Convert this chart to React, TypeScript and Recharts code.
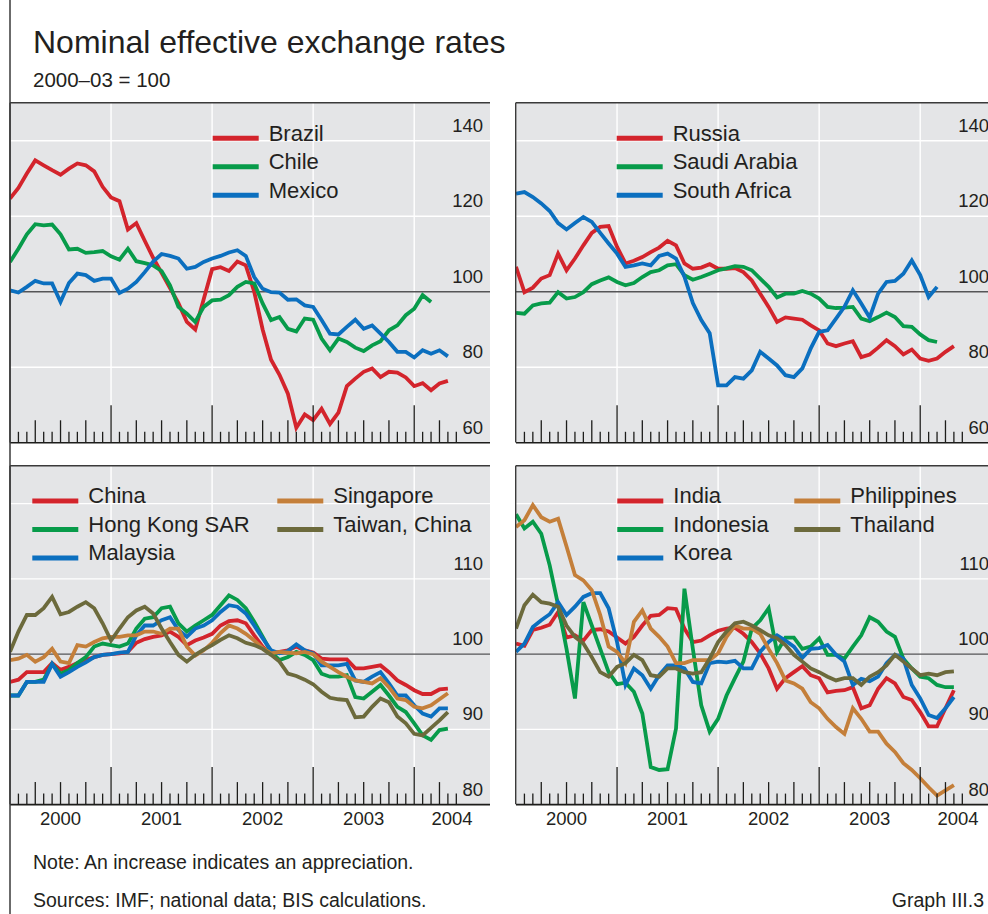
import React from "react";
import { LineChart, Line, XAxis, YAxis, ReferenceLine, CartesianGrid } from "recharts";

// monthly observations, index 0 = Jan 2000 ... 52 = May 2004
const months = [...Array(53).keys()];
const yearLabels = ["2000", "2001", "2002", "2003", "2004"];

// Latin America
const brazil = [124.7, 127.5, 131.3, 134.8, 133.5, 132.2, 131, 132.6, 134, 133.5, 131.9, 127.8, 125, 124, 116.5, 118.2, 113.5, 109, 105, 101, 97, 92, 90, 98, 106, 106.5, 105.5, 108, 107, 100, 90, 82, 78, 73, 64, 67.5, 66, 69, 65, 68, 75, 77, 78.8, 79.7, 77.4, 78.8, 78.6, 77.3, 75, 75.8, 73.9, 75.7, 76.4];
const chile = [107.9, 111.4, 115.2, 117.9, 117.6, 117.8, 115.2, 111.2, 111.4, 110.3, 110.5, 110.8, 109.4, 108.5, 111.4, 108.1, 107.6, 107, 105.5, 101.7, 96, 94.2, 92, 96, 97.7, 97.9, 99.1, 101.3, 102.6, 102.2, 96.9, 92.5, 93.3, 90.2, 89.5, 92.9, 92.6, 87.6, 84.5, 87.6, 86.7, 85.2, 84.3, 85.8, 86.9, 89.8, 91.1, 93.8, 95.5, 99.1, 97.3];
const mexico = [100.4, 99.8, 101.3, 102.9, 102.2, 102.2, 97.3, 102.3, 104.8, 104.4, 102.9, 103.5, 103.5, 99.7, 100.8, 102.6, 105.2, 108, 110, 109.5, 108.8, 106.1, 106.6, 107.9, 108.8, 109.5, 110.4, 111, 109.5, 103.9, 100.8, 99.9, 99.8, 97.9, 98, 96.4, 96, 92.5, 88.9, 88.7, 90.7, 92.6, 90.2, 91.1, 88.9, 86.7, 84.1, 84.1, 82.6, 84.5, 83.6, 84.5, 82.9];

// Russia, Saudi Arabia, South Africa
const russia = [106.6, 99.9, 101.1, 103.5, 104.4, 110.1, 105.7, 108.8, 112.3, 115.6, 117.2, 117.4, 111.9, 107.5, 108.2, 109.2, 110.5, 111.7, 113.5, 112.3, 107.5, 106.1, 106.4, 107.3, 106.1, 106.1, 106.3, 105.2, 103, 99.5, 96, 92, 93.2, 92.9, 92.6, 91.1, 89.8, 86.3, 85.6, 86.3, 86.9, 82.7, 83.4, 85.2, 87.2, 85.6, 83.4, 84.7, 82.3, 81.7, 82.3, 84.1, 85.6];
const saudi = [94.4, 94.2, 96.4, 96.9, 97.1, 99.9, 98.2, 98.6, 99.9, 102, 103, 103.8, 102.6, 101.7, 102.3, 103.9, 105.2, 105.7, 107, 107.3, 104.4, 103.2, 103.9, 104.8, 105.7, 106.2, 106.8, 106.6, 105.7, 103.5, 101.3, 98.5, 99.5, 99.5, 100.2, 99.5, 98.2, 96, 95.7, 95.8, 96, 92.9, 92.2, 93.3, 94.5, 93.3, 90.9, 90.7, 88.7, 87.2, 86.7];
const southAfrica = [126, 126.4, 125.1, 123.4, 121.4, 118.2, 116.5, 118.2, 119.8, 118.5, 115.6, 112.8, 110.1, 106.6, 107, 107.5, 107, 109.5, 110.1, 108.8, 104, 97, 92.5, 89, 75.2, 75.2, 77.4, 77, 79.2, 84.1, 82.3, 80.5, 77.9, 77.4, 79.7, 85, 89.4, 89.8, 92.9, 96, 100.4, 96.9, 93.2, 99.5, 102.6, 102.9, 104.8, 108.3, 104.4, 98.6, 101.3];

// China, Hong Kong, Malaysia, Singapore, Taiwan
const china = [96.3, 96.6, 97.6, 97.6, 97.6, 98.8, 97.9, 98.3, 98.8, 99.2, 99.6, 99.9, 100, 100.1, 100.3, 101.5, 102, 102.3, 102.5, 103, 102.3, 101.2, 101.8, 102.2, 102.7, 103.8, 104.4, 104.5, 104.1, 102.5, 101, 100, 100.3, 100.5, 101, 100.5, 100.2, 99.4, 99.3, 99.3, 99.3, 98.1, 98.1, 98.3, 98.5, 97.6, 96.5, 95.9, 95.2, 94.7, 94.7, 95.3, 95.4];
const hongKong = [94.5, 94.5, 96.3, 96.3, 96.6, 98.7, 97.4, 97.9, 98.8, 99.6, 101, 101.4, 101.2, 101, 101.4, 103.4, 104.7, 104.9, 106.1, 106.3, 104.1, 103, 103.8, 104.5, 105.2, 106.5, 107.8, 107.2, 106.1, 104.3, 102.3, 100.3, 99.2, 99.6, 100.3, 99.9, 99.2, 97.4, 97, 97, 97.2, 94.3, 94.1, 95, 95.9, 94.5, 93, 92.3, 90.8, 89.2, 88.6, 89.9, 90.1];
const malaysia = [94.5, 94.5, 96.3, 96.3, 96.3, 98.7, 97, 97.6, 98.3, 98.9, 99.6, 99.9, 100, 100.2, 100.3, 102.5, 103.8, 103.8, 104.5, 104.9, 103.2, 102.3, 103.4, 103.8, 104.5, 105.6, 106.5, 106.3, 105.4, 103.8, 102.1, 100.5, 100.1, 100.4, 101.3, 100.5, 100.1, 98.5, 98.5, 98.5, 98.7, 96.5, 96.3, 97, 97.6, 96.1, 94.5, 94.5, 93.2, 92.1, 91.7, 92.8, 92.8];
const singapore = [99.2, 99.4, 99.9, 99, 99.6, 100.7, 99, 98.8, 101.2, 101, 101.6, 102.1, 102.3, 102.3, 102.5, 102.5, 103, 103, 102.7, 103.4, 103.4, 101, 99.8, 100.5, 101.5, 102.8, 103.8, 103.4, 102.7, 101.8, 100.8, 100.1, 100.3, 100.2, 100.1, 100.3, 100, 99, 98.3, 97.6, 97, 96.5, 96.3, 96.1, 96.8, 95.6, 94.1, 93.9, 93, 92.8, 93.2, 94, 94.8];
const taiwan = [100.3, 103, 105.2, 105.2, 106.1, 107.6, 105.3, 105.6, 106.3, 106.9, 106.1, 104.1, 101.8, 103.4, 104.9, 105.8, 106.3, 105.4, 103.4, 101.6, 99.9, 99, 99.9, 100.6, 101.2, 101.9, 102.5, 102.1, 101.5, 101.2, 100.7, 99.9, 99, 97.4, 97.1, 96.6, 96, 95, 94.2, 94, 93.9, 91.6, 91.7, 93, 94.1, 93.6, 91.7, 90.8, 89.4, 89.2, 90.2, 91.2, 92.3];

// India, Indonesia, Korea, Philippines, Thailand
const india = [101.4, 101.1, 103.2, 103.5, 103.9, 105.6, 102.2, 102.5, 101.8, 103.2, 103.3, 103, 102.2, 101.4, 102.3, 103.8, 105.1, 105.2, 106.1, 106, 103.4, 101.6, 101.8, 102.5, 103.1, 103.4, 103.5, 102.7, 101.6, 100.1, 98.1, 95.4, 96.8, 97.6, 98.4, 97.2, 96.8, 94.9, 95.1, 95.2, 95.6, 92.8, 93.2, 95.4, 96.8, 96.1, 94.3, 93.9, 92.3, 90.4, 90.4, 92.8, 95.2];
const indonesia = [118.6, 116.7, 117.6, 116, 111.8, 106.5, 100.7, 94.1, 106.9, 103.8, 100.7, 97.6, 96, 96.2, 95, 92.1, 85, 84.6, 84.7, 90.1, 108.7, 100.7, 93.2, 89.7, 91.4, 94.5, 96.8, 99, 103.4, 104.5, 106.1, 100.3, 102.2, 102.2, 100.7, 101, 102.1, 99.9, 99.9, 99.4, 101, 102.5, 104.9, 104.3, 103, 102.3, 99.4, 98.1, 97, 96.8, 95.9, 95.6, 95.6];
const korea = [100.3, 101.4, 103.6, 104.5, 105.3, 106.9, 105.2, 106.3, 107.6, 108.1, 108.1, 106.1, 101.6, 95.9, 98.1, 97.2, 95.4, 97.2, 98.5, 98.5, 98.1, 96.3, 96.1, 98.8, 99, 98.9, 99.1, 98.1, 98.1, 100.3, 101.6, 102.5, 101.8, 101, 99.5, 100.7, 100.8, 101.2, 99.9, 99, 95.9, 96.7, 96.4, 97, 98.8, 99.9, 99.4, 95.9, 94.1, 91.9, 91.5, 92.8, 94.3];
const philippines = [116.9, 117.8, 119.8, 118.2, 117.6, 118, 114.3, 110.5, 109.8, 108.5, 105.2, 101, 100.3, 98.8, 104.3, 105.8, 103.4, 102.3, 101, 98.8, 98.8, 99.2, 99.2, 99.2, 100.1, 102.3, 103.8, 103.4, 103.4, 102.7, 100.7, 98.8, 96.5, 96.1, 95.4, 93.6, 92.8, 91.4, 90.3, 89.4, 92.8, 91.4, 89.7, 89.7, 88.1, 87, 85.5, 84.6, 83.5, 82.3, 81.2, 81.9, 82.6];
const thailand = [103.4, 106.5, 107.9, 106.9, 106.7, 106.3, 103.8, 102.3, 101.4, 99.6, 97.6, 97, 98.3, 98.8, 99.9, 99.2, 97.2, 97, 98.1, 98.1, 97.6, 97.4, 97.6, 99.4, 101.6, 103, 104.1, 104.3, 103.8, 103.2, 102.5, 102.1, 101.2, 99.9, 99, 98.1, 97.6, 97, 96.5, 96.8, 96.8, 95.9, 97, 97.6, 98.5, 99.9, 99, 98.1, 97.2, 97.4, 97.2, 97.6, 97.7];

const RED = "#d3242c";
const GREEN = "#079b4a";
const BLUE = "#0b6fbf";
const TAN = "#c47f3a";
const OLIVE = "#6c6a3c";
const BG = "#e4e5e7";
const TEXT = "#231f20";
const DARK = "#3a3a3a";
const FONT = '"Liberation Sans", Arial, sans-serif';

const W = 480; // panel width in px
const X_MAX = 57; // months shown across the panel
const tickMonths = [...Array(53).keys()].map((i) => i + 1);

type Series = { name: string; values: number[]; color: string; col: number; row: number };
type PanelCfg = {
  left: number;
  top: number;
  plotH: number;
  domain: [number, number];
  grid: number[];
  labels: number[];
  years: boolean;
  legendX: number[];
  legendY: number;
  series: Series[];
};

const panels: PanelCfg[] = [
  {
    left: 10, top: 102.7, plotH: 339.8, domain: [60, 150], grid: [80, 100, 120, 140], labels: [60, 80, 100, 120, 140],
    years: false, legendX: [212.7], legendY: 138.3,
    series: [
      { name: "Brazil", values: brazil, color: RED, col: 0, row: 0 },
      { name: "Chile", values: chile, color: GREEN, col: 0, row: 1 },
      { name: "Mexico", values: mexico, color: BLUE, col: 0, row: 2 },
    ],
  },
  {
    left: 515.7, top: 102.7, plotH: 339.8, domain: [60, 150], grid: [80, 100, 120, 140], labels: [60, 80, 100, 120, 140],
    years: false, legendX: [616.7], legendY: 138.3,
    series: [
      { name: "Russia", values: russia, color: RED, col: 0, row: 0 },
      { name: "Saudi Arabia", values: saudi, color: GREEN, col: 0, row: 1 },
      { name: "South Africa", values: southAfrica, color: BLUE, col: 0, row: 2 },
    ],
  },
  {
    left: 10, top: 465.7, plotH: 338.6, domain: [80, 125], grid: [90, 100, 110, 120], labels: [80, 90, 100, 110],
    years: true, legendX: [32.3, 277.3], legendY: 501,
    series: [
      { name: "China", values: china, color: RED, col: 0, row: 0 },
      { name: "Hong Kong SAR", values: hongKong, color: GREEN, col: 0, row: 1 },
      { name: "Malaysia", values: malaysia, color: BLUE, col: 0, row: 2 },
      { name: "Singapore", values: singapore, color: TAN, col: 1, row: 0 },
      { name: "Taiwan, China", values: taiwan, color: OLIVE, col: 1, row: 1 },
    ],
  },
  {
    left: 515.7, top: 465.7, plotH: 338.6, domain: [80, 125], grid: [90, 100, 110, 120], labels: [80, 90, 100, 110],
    years: true, legendX: [617.3, 794.3], legendY: 501,
    series: [
      { name: "India", values: india, color: RED, col: 0, row: 0 },
      { name: "Indonesia", values: indonesia, color: GREEN, col: 0, row: 1 },
      { name: "Korea", values: korea, color: BLUE, col: 0, row: 2 },
      { name: "Philippines", values: philippines, color: TAN, col: 1, row: 0 },
      { name: "Thailand", values: thailand, color: OLIVE, col: 1, row: 1 },
    ],
  },
];

function MonthTick(props: any) {
  const { x, y, payload, years } = props;
  const m = payload.value;
  const len = m % 12 === 0 ? 37.5 : m % 3 === 0 ? 22.5 : 11;
  let label = null;
  if (years && m % 12 === 6) label = { x, text: yearLabels[(m - 6) / 12] };
  if (years && m === 52) label = { x: x + 4.2, text: yearLabels[4] };
  return (
    <g>
      <line x1={x} x2={x} y1={y} y2={y - len} stroke="#1d1d1b" strokeWidth={1.3} />
      {label && (
        <text x={label.x} y={y + 20.7} textAnchor="middle" fontSize={18.5} fontFamily={FONT} fill={TEXT}>
          {label.text}
        </text>
      )}
    </g>
  );
}

function ValueTick(props: any) {
  const { y, payload } = props;
  return (
    <text x={W - 7} y={y - 9} textAnchor="end" fontSize={18.5} fontFamily={FONT} fill={TEXT}>
      {payload.value}
    </text>
  );
}

function Panel({ p }: { p: PanelCfg }) {
  const axisH = p.years ? 32 : 2;
  const data = months.map((m, i) => {
    const row: any = { m };
    p.series.forEach((s) => {
      row[s.name] = s.values[i] ?? null;
    });
    return row;
  });
  return (
    <div style={{ position: "absolute", left: p.left, top: p.top }}>
      <LineChart width={W} height={p.plotH + axisH} data={data} margin={{ top: 0, right: 0, bottom: 0, left: 0 }}>
        <CartesianGrid fill={BG} stroke="none" horizontal={false} vertical={false} />
        <XAxis
          dataKey="m"
          type="number"
          domain={[0, X_MAX]}
          allowDataOverflow
          ticks={tickMonths}
          interval={0}
          tickSize={0}
          tickMargin={0}
          height={axisH}
          axisLine={false}
          tickLine={false}
          tick={<MonthTick years={p.years} />}
        />
        <YAxis
          type="number"
          domain={p.domain}
          allowDataOverflow
          orientation="right"
          mirror
          width={40}
          ticks={p.labels}
          interval={0}
          axisLine={false}
          tickLine={false}
          tick={<ValueTick />}
        />
        {[12, 24, 36, 48].map((m) => (
          <ReferenceLine key={"x" + m} x={m} stroke="#ffffff" strokeWidth={1.4} />
        ))}
        {p.grid.map((v) => (
          <ReferenceLine key={"y" + v} y={v} stroke={v === 100 ? "#555557" : "#ffffff"} strokeWidth={1.4} />
        ))}
        <ReferenceLine y={p.domain[0]} stroke="#1d1d1b" strokeWidth={1.6} />
        {p.series.map((s) => (
          <Line
            key={s.name}
            dataKey={s.name}
            type="linear"
            stroke={s.color}
            strokeWidth={3.8}
            dot={false}
            activeDot={false}
            isAnimationActive={false}
          />
        ))}
      </LineChart>
    </div>
  );
}

export default function App() {
  return (
    <div style={{ position: "absolute", left: 0, top: 0, width: 988, height: 914, background: "#fff", overflow: "hidden" }}>
      {panels.map((p, i) => (
        <Panel key={i} p={p} />
      ))}
      <svg width={988} height={914} style={{ position: "absolute", left: 0, top: 0, pointerEvents: "none" }} fontFamily={FONT}>
        <text x={33} y={53} fontSize={32} fill={TEXT}>Nominal effective exchange rates</text>
        <text x={33} y={87} fontSize={20.5} fill={TEXT}>2000–03 = 100</text>

        {/* frames */}
        <line x1={10} x2={10} y1={0} y2={914} stroke={DARK} strokeWidth={1.5} />
        {panels.map((p, i) => (
          <g key={i}>
            <line x1={p.left} x2={p.left + W} y1={p.top} y2={p.top} stroke={DARK} strokeWidth={1.4} />
            <line x1={p.left} x2={p.left} y1={p.top} y2={p.top + p.plotH} stroke={DARK} strokeWidth={1.4} />
          </g>
        ))}

        {/* legends */}
        {panels.map((p, i) =>
          p.series.map((s) => {
            const x0 = p.legendX[s.col];
            const y = p.legendY + s.row * 28.5;
            return (
              <g key={i + s.name}>
                <line x1={x0} x2={x0 + 46} y1={y} y2={y} stroke={s.color} strokeWidth={5} />
                <text x={x0 + 56} y={y + 2.2} fontSize={22} fill={TEXT}>{s.name}</text>
              </g>
            );
          })
        )}

        <text x={33} y={869} fontSize={19.5} fill={TEXT}>Note: An increase indicates an appreciation.</text>
        <text x={33} y={907} fontSize={19.5} fill={TEXT}>Sources: IMF; national data; BIS calculations.</text>
        <text x={984} y={907} fontSize={19.5} fill={TEXT} textAnchor="end">Graph III.3</text>
      </svg>
    </div>
  );
}
